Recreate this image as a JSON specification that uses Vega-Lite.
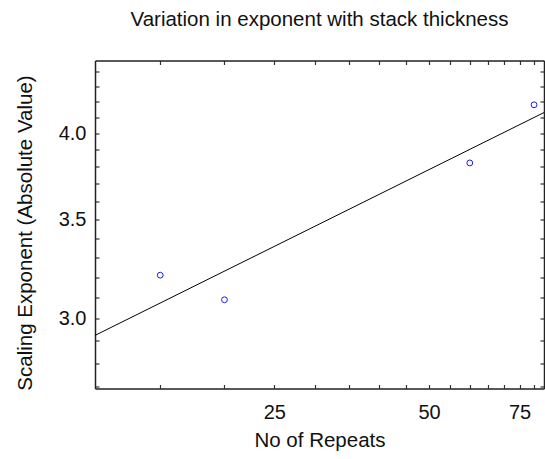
{
  "$schema": "https://vega.github.io/schema/vega-lite/v6.json",
  "autosize": "none",
  "width": 449,
  "height": 328,
  "padding": {"left": 95, "top": 60.5, "right": 1, "bottom": 70.5},
  "background": "white",
  "config": {
    "view": {"stroke": null},
    "font": "Liberation Sans",
    "axis": {
      "grid": false,
      "domainColor": "#222",
      "domainWidth": 1.5,
      "tickColor": "#333",
      "tickWidth": 1.2,
      "tickSize": -4,
      "labelFont": "Liberation Sans",
      "labelFontSize": 20,
      "labelColor": "#111",
      "labelFlush": false,
      "labelOverlap": false,
      "titleFont": "Liberation Sans",
      "titleFontSize": 20.5,
      "titleFontWeight": "normal",
      "titleColor": "#111"
    }
  },
  "title": {
    "text": "Variation in exponent with stack thickness",
    "font": "Liberation Sans",
    "fontSize": 20.5,
    "fontWeight": "normal",
    "color": "#111",
    "anchor": "middle",
    "baseline": "alphabetic",
    "offset": 13
  },
  "datasets": {
    "points": [
      {"repeats": 15, "exponent": 3.21},
      {"repeats": 20, "exponent": 3.09},
      {"repeats": 60, "exponent": 3.82},
      {"repeats": 80, "exponent": 4.18}
    ],
    "fit": [
      {"repeats": 11.2, "exponent": 2.924},
      {"repeats": 83.65, "exponent": 4.13}
    ]
  },
  "layer": [
    {
      "data": {"name": "fit"},
      "mark": {"type": "line", "color": "#000", "strokeWidth": 1, "clip": true},
      "encoding": {
        "x": {
          "field": "repeats", "type": "quantitative",
          "scale": {"type": "log", "domain": [11.2, 83.65], "nice": false, "zero": false},
          "axis": {"orient": "top", "labels": false, "title": null,
                   "values": [15,20,25,30,35,40,45,50,55,60,65,70,75,80]}
        },
        "y": {
          "field": "exponent", "type": "quantitative",
          "scale": {"type": "log", "domain": [2.693, 4.477], "nice": false, "zero": false},
          "axis": {"orient": "right", "labels": false, "title": null,
                   "values": [2.7,2.8,2.9,3.0,3.1,3.2,3.3,3.4,3.5,3.6,3.7,3.8,3.9,4.0,4.1,4.2,4.3,4.4]}
        }
      }
    },
    {
      "data": {"name": "points"},
      "mark": {"type": "point", "shape": "circle", "filled": false, "stroke": "#1a1aff", "strokeWidth": 1, "size": 34, "opacity": 1},
      "encoding": {
        "x": {
          "field": "repeats", "type": "quantitative",
          "scale": {"type": "log", "domain": [11.2, 83.65], "nice": false, "zero": false},
          "axis": {"orient": "bottom", "title": "No of Repeats",
                   "values": [15,20,25,30,35,40,45,50,55,60,65,70,75,80],
                   "labelExpr": "indexof([25,50,75], datum.value) >= 0 ? datum.label : ''",
                   "labelPadding": 17.5,
                   "titleY": 42}
        },
        "y": {
          "field": "exponent", "type": "quantitative",
          "scale": {"type": "log", "domain": [2.693, 4.477], "nice": false, "zero": false},
          "axis": {"orient": "left", "title": "Scaling Exponent (Absolute Value)",
                   "values": [2.7,2.8,2.9,3.0,3.1,3.2,3.3,3.4,3.5,3.6,3.7,3.8,3.9,4.0,4.1,4.2,4.3,4.4],
                   "labelExpr": "(datum.value == 3 || datum.value == 3.5 || datum.value == 4) ? format(datum.value, '.1f') : ''",
                   "labelPadding": 13,
                   "titleX": -60,
                   "titleY": 172,
                   "titleBaseline": "bottom"}
        }
      }
    }
  ],
  "resolve": {"axis": {"x": "independent", "y": "independent"}}
}
